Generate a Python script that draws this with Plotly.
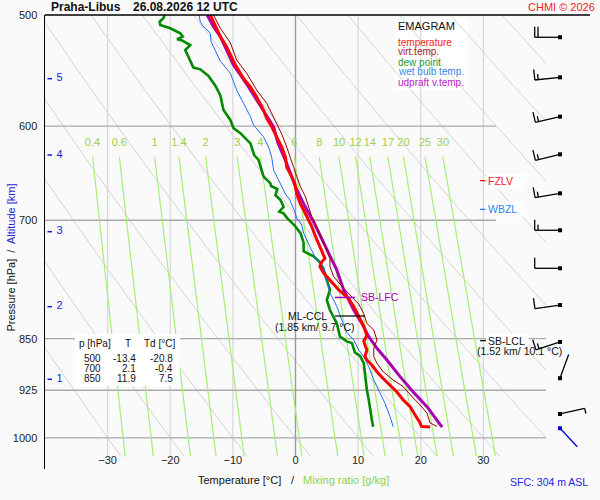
import numpy as np
import plotly.graph_objects as go

FONT = "Liberation Sans, Arial, sans-serif"

# ---------------- data ----------------
station = "Praha-Libus"
date_label = "26.08.2026 12 UTC"

temp_p = [500, 505.5, 511.0, 518.0, 526.6, 533.9, 542.7, 547.2, 554.9, 562.5, 571.9, 584.3, 592.4, 600.6,
          610.6, 620.8, 631.3, 641.8, 651.7, 658.9, 670.6, 681.7, 688.4, 699.8, 707.4, 717.2, 731.0, 741.3,
          745.2, 749.3, 755.4, 763.3, 772.1, 784.8, 795.0, 806.4, 819.4, 832.5, 846.1, 853.3, 858.9, 865.9,
          875.4, 880.2, 887.5, 897.4, 907.3, 917.1, 927.7, 939.9, 950.3, 963.3, 976.0, 981.5, 982.5]
temp_t = [-13.6, -13.1, -12.5, -12.0, -11.0, -10.4, -9.6, -9.1, -8.3, -7.2, -6.2, -5.1, -4.6, -3.8,
          -3.0, -2.2, -1.6, -1.4, -0.6, -0.1, 0.2, 0.8, 1.3, 2.1, 2.6, 3.1, 3.9, 4.5,
          4.7, 4.2, 3.9, 4.5, 5.5, 6.9, 8.4, 9.3, 10.1, 10.9, 11.4, 10.9, 11.1, 11.4,
          11.1, 11.4, 12.2, 13.0, 14.0, 15.1, 16.2, 17.2, 18.3, 19.1, 19.9, 20.1, 21.5]

tv_p = [500, 511.0, 523.3, 538.3, 550.1, 565.4, 577.9, 590.7, 607.7, 620.8, 631.3, 641.8, 651.7, 662.8,
        673.8, 684.7, 696.1, 707.4, 723.1, 735.0, 745.2, 755.4, 767.9, 781.9, 794.5, 803.1, 815.9, 829.0,
        838.0, 851.9, 863.5, 875.4, 885.0, 897.4, 909.6, 919.6, 934.8, 947.6, 960.6, 976.0, 981.5]
tv_t = [-13.1, -12.0, -10.4, -9.4, -7.8, -6.2, -4.6, -3.5, -2.2, -1.4, -0.9, -0.3, 0.2, 0.8,
        1.6, 2.1, 2.6, 3.4, 4.2, 5.0, 5.5, 5.5, 6.1, 7.6, 9.0, 10.1, 10.9, 11.4,
        12.5, 13.0, 12.5, 12.5, 13.0, 14.0, 15.6, 17.2, 18.6, 19.9, 21.0, 21.5, 22.6]

dew_p = [500, 502.7, 505.5, 508.3, 511.0, 515.2, 518.0, 520.2, 521.4, 525.2, 529.5, 534.9, 545.0, 546.6,
         552.6, 561.5, 570.5, 584.3, 589.1, 593.9, 601.9, 606.9, 617.1, 629.0, 634.2, 644.7, 651.7, 658.9,
         661.8, 665.1, 671.7, 677.2, 684.7, 690.3, 692.2, 697.9, 705.5, 714.9, 726.6, 736.6, 742.7, 750.1,
         759.5, 772.1, 784.8, 797.8, 811.0, 829.0, 847.2, 853.8, 856.0, 869.6, 874.4, 885.0, 904.6, 924.6,
         939.9, 955.4, 971.2, 982.0]
dew_t = [-20.9, -21.1, -21.7, -21.6, -20.0, -18.4, -18.0, -18.9, -18.1, -16.8, -17.6, -17.1, -16.3, -15.2,
         -13.9, -12.8, -12.0, -11.5, -11.0, -10.4, -9.9, -8.8, -7.2, -6.6, -5.9, -5.4, -5.1, -4.0,
         -3.9, -2.9, -3.2, -2.4, -1.9, -2.6, -1.9, -1.3, -0.2, 0.8, 1.3, 1.3, 2.9, 3.9,
         4.5, 5.0, 5.5, 5.0, 5.5, 6.6, 7.1, 8.2, 9.0, 9.5, 10.3, 10.9, 11.1, 11.4,
         11.7, 11.9, 12.2, 12.4]

wb_p = [500, 505.5, 508.3, 515.2, 522.1, 539.4, 550.1, 565.4, 577.9, 590.7, 598.8, 610.6, 620.8, 631.3,
        644.7, 658.9, 670.6, 677.2, 690.3, 697.9, 705.5, 714.9, 723.1, 732.6, 747.2, 755.4, 772.1, 789.0,
        797.8, 806.4, 824.4, 841.5, 851.9, 865.9, 875.4, 890.0, 909.6, 929.6, 945.1, 966.0, 982.0]
wb_t = [-15.4, -15.2, -14.9, -13.6, -13.5, -12.0, -10.4, -9.4, -8.3, -7.2, -6.7, -5.1, -4.3, -3.8,
        -3.5, -2.4, -1.6, -0.9, -0.1, 0.2, 1.0, 1.3, 1.8, 2.4, 3.4, 4.5, 5.0, 5.5,
        6.1, 6.6, 7.4, 8.2, 9.3, 10.1, 10.9, 11.7, 12.5, 13.5, 14.3, 15.1, 15.6]

parcel_p = [500, 509.7, 518.0, 529.5, 542.7, 551.7, 562.5, 574.8, 587.6, 600.6, 616.8, 639.4, 662.8, 682.8,
            702.1, 735.0, 759.5, 784.8, 794.5, 811.0, 829.0, 847.2, 863.5, 880.2, 904.6, 927.7, 950.3, 982.5]
parcel_t = [-14.1, -13.1, -12.0, -11.0, -9.9, -8.8, -7.5, -6.2, -4.8, -3.5, -2.8, -1.3, 0.0, 1.4,
            2.9, 5.0, 6.6, 7.7, 8.3, 9.3, 10.6, 11.7, 13.0, 14.6, 16.7, 18.8, 21.0, 23.4]

table_p = [500, 700, 850]
table_t = [-13.4, 2.1, 11.9]
table_td = [-20.8, -0.4, 7.5]

isobar_ticks = [500, 600, 700, 850, 925, 1000]
isotherm_ticks = [-30, -20, -10, 0, 10, 20, 30]
mixing_ratios = [0.4, 0.6, 1, 1.4, 2, 3, 4, 6, 8, 10, 12, 14, 17, 20, 25, 30]
mixing_labels = ["0.4", "0.6", "1", "1.4", "2", "3", "4", "6", "8", "10", "12", "14", "17", "20", "25", "30"]
adiabat_t1000 = [-30, -20, -10, 0, 10, 20, 30, 40, 50, 60, 70, 80, 90, 100]

alt_km = [1, 2, 3, 4, 5]
alt_p = [908.5, 806.6, 713.3, 629.0, 555.0]

wind_p = [518.6, 553.8, 590.7, 628.3, 669.8, 711.6, 757.4, 804.4, 854.6, 907.0, 961.7]
wind_dir = [270, 264, 257, 256, 260, 270, 270, 262, 252, 20, 77]
wind_kt = [20, 15, 15, 15, 15, 15, 10, 10, 15, 2, 5]
sfc_p, sfc_dir, sfc_kt = 984.5, 137, 3

fzlv_p = 656.0
wbzl_p = 687.6
sb_lfc_p, sb_lfc_t = 794.5, 8.3
ml_ccl_p, ml_ccl_km, ml_ccl_t = 819.0, 1.85, 9.7
sb_lcl_p, sb_lcl_km, sb_lcl_t = 852.8, 1.52, 10.1
sfc_alt_m = 304

# ---------------- geometry helpers ----------------
L_M, R_M, T_M, B_M = 45, 4, 15, 31
W_PLOT = 600 - L_M - R_M
H_PLOT = 500 - T_M - B_M
MAIN_W = 501
BARB_X0 = 520          # left edge (px) of the wind-barb strip
STATION_X = 560        # px of barb station dots
P_BOTTOM = 1052.5
PX_PER_LN = H_PLOT / np.log(P_BOTTOM / 500.0)


def px(x):
    return (x - L_M) / W_PLOT


def py(y):
    return (500 - B_M - y) / H_PLOT


def t_of_px(x):
    return -40 + (x - L_M) * 80.0 / MAIN_W


fig = go.Figure()


def seg_trace(xs, ys, color, width, xaxis="x"):
    fig.add_trace(go.Scatter(x=xs, y=ys, mode="lines", line=dict(color=color, width=width),
                             hoverinfo="skip", xaxis=xaxis, yaxis="y"))


# isotherms
xs, ys = [], []
for t in isotherm_ticks:
    if t == 0:
        continue
    xs += [t, t, None]
    ys += [500, 1031, None]
seg_trace(xs, ys, "#d9d9d9", 1.3)

# dry adiabats
pp = np.geomspace(500, 1031, 90)
xs, ys = [], []
for t0 in adiabat_t1000:
    tt = (t0 + 273.15) * (pp / 1000.0) ** 0.2857 - 273.15
    xs += list(tt) + [None]
    ys += list(pp) + [None]
seg_trace(xs, ys, "#d4d4d4", 1.0)

# isobars
xs, ys = [], []
for p in isobar_ticks[1:]:
    right = 32 if p in (600, 700) else 40
    xs += [-40, right, None]
    ys += [p, p, None]
seg_trace(xs, ys, "#a9a9a9", 1.3)
seg_trace([0, 0], [500, 1031], "#9a9a9a", 1.4)


# mixing ratio lines
def td_from_w(w, p):
    e = w * p / (622.0 + w)
    lg = np.log(e / 6.112)
    return 243.5 * lg / (17.67 - lg)


pm = np.geomspace(630.8, 1031, 60)
xs, ys = [], []
for w in mixing_ratios:
    xs += list(td_from_w(w, pm)) + [None]
    ys += list(pm) + [None]
seg_trace(xs, ys, "#a6ee78", 1.2)
fig.add_trace(go.Scatter(x=[td_from_w(w, 630.8) for w in mixing_ratios], y=[616.8] * len(mixing_ratios),
                         mode="text", text=mixing_labels, textfont=dict(family=FONT, size=11, color="#9bd14a"),
                         hoverinfo="skip", cliponaxis=False))

# altitude ticks
xs, ys = [], []
for p in alt_p:
    xs += [t_of_px(47.5), t_of_px(52), None]
    ys += [p, p, None]
seg_trace(xs, ys, "#1a1ae6", 1.5)
fig.add_trace(go.Scatter(x=[t_of_px(59.5)] * len(alt_km), y=alt_p, mode="text", text=[str(k) for k in alt_km],
                         textfont=dict(family=FONT, size=11, color="#1a1ae6"), hoverinfo="skip"))

# profiles
seg_trace(dew_t, dew_p, "#008a00", 2.6)
seg_trace(wb_t, wb_p, "#1f6fff", 1.0)
seg_trace(parcel_t, parcel_p, "#aa00b4", 3.0)
seg_trace(temp_t, temp_p, "#ff0000", 3.0)
seg_trace(tv_t, tv_p, "#990000", 1.0)

# level markers
seg_trace([sb_lfc_t - 2.0, sb_lfc_t + 1.2], [sb_lfc_p, sb_lfc_p], "#aa00b4", 1.5)
seg_trace([ml_ccl_t - 3.4, ml_ccl_t + 1.4], [ml_ccl_p, ml_ccl_p], "#000000", 1.2)
seg_trace([t_of_px(480), t_of_px(486)], [sb_lcl_p, sb_lcl_p], "#000000", 1.2)
seg_trace([t_of_px(480), t_of_px(485.5)], [fzlv_p, fzlv_p], "#ff0000", 1.2)
seg_trace([t_of_px(480), t_of_px(485.5)], [wbzl_p, wbzl_p], "#1f6fff", 1.2)

SX = STATION_X - BARB_X0


# wind barbs (on a second x axis in pixel units)
def barb(p0, d, spd, color):
    rad = np.deg2rad(d)
    ux, uy = np.sin(rad), -np.cos(rad)
    bx, by = np.cos(rad), np.sin(rad)
    L = 25.3
    segs = [((0, 0), (L * ux, L * uy))]
    pos = L
    for _ in range(int(spd // 10)):
        segs.append(((pos * ux, pos * uy), (pos * ux + 10.5 * bx, pos * uy + 10.5 * by)))
        pos -= 3.3
    if spd % 10 >= 5:
        segs.append(((pos * ux, pos * uy), (pos * ux + 5.5 * bx, pos * uy + 5.5 * by)))
    xs, ys = [], []
    for (a, b) in segs:
        for (ddx, ddy) in (a, b):
            xs.append(SX + ddx)
            ys.append(p0 * np.exp(ddy / PX_PER_LN))
        xs.append(None)
        ys.append(None)
    seg_trace(xs, ys, color, 1.3, xaxis="x2")


for p, d, s in zip(wind_p, wind_dir, wind_kt):
    barb(p, d, s, "#000000")
barb(sfc_p, sfc_dir, sfc_kt, "#0000dd")
fig.add_trace(go.Scatter(x=[SX] * len(wind_p), y=wind_p, mode="markers", xaxis="x2", yaxis="y",
                         marker=dict(symbol="square", size=4, color="#000000"), hoverinfo="skip"))
fig.add_trace(go.Scatter(x=[SX], y=[sfc_p], mode="markers", xaxis="x2", yaxis="y",
                         marker=dict(symbol="square", size=4, color="#0000dd"), hoverinfo="skip"))

# ---------------- annotations ----------------
annotations = []


def label(text, x, y, size=10.5, color="#111111", xanchor="left", bold=False, bg=None, angle=0):
    a = dict(text=f"<b>{text}</b>" if bold else text, x=px(x), y=py(y), xref="paper", yref="paper",
             xanchor=xanchor, yanchor="middle", showarrow=False, textangle=angle,
             font=dict(family=FONT, size=size, color=color))
    if bg:
        a.update(bgcolor=bg, borderpad=1)
    annotations.append(a)


def dlabel(text, t, p, size=10.5, color="#111111", xanchor="left", bg=None):
    a = dict(text=text, x=t, y=np.log10(p), xref="x", yref="y", xanchor=xanchor, yanchor="middle",
             showarrow=False, font=dict(family=FONT, size=size, color=color))
    if bg:
        a.update(bgcolor=bg, borderpad=1)
    annotations.append(a)


label(station, 49, 7, size=12, color="#111111", bold=True)
label(date_label, 130.5, 7, size=12, color="#111111", bold=True)
label("CHMI © 2026", 597, 7, size=11, color="#ee2222", xanchor="right")

label("EMAGRAM", 395.5, 25.7, size=11, color="#111111")
leg = [("temperature", "#ff2020"), ("virt.temp.", "#aa1a1a"), ("dew point", "#1f9a1f"),
       ("wet bulb temp.", "#3a86ee"), ("udpraft v.temp.", "#b526c4")]
for i, (txt, c) in enumerate(leg):
    label(txt, 395.5, 42 + 10 * i, size=10, color=c)

label("p [hPa]", 77, 343.7, size=10)
label("T", 127.5, 343.7, size=10, xanchor="center")
label("Td [°C]", 142, 343.7, size=10)
for i, (p, t, td) in enumerate(zip(table_p, table_t, table_td)):
    yy = 358.7 + 10 * i
    label(f"{p}", 103, yy, size=10, xanchor="right")
    label(f"{t:.1f}", 138, yy, size=10, xanchor="right")
    label(f"{td:.1f}", 174.5, yy, size=10, xanchor="right")

dlabel("SB-LFC", sb_lfc_t + 1.8, sb_lfc_p, color="#aa00b4")
dlabel("ML-CCL", ml_ccl_t - 4.4, ml_ccl_p, xanchor="right")
dlabel(f"({ml_ccl_km:.2f} km/ {ml_ccl_t:.1f} °C)", ml_ccl_t - 6.6, ml_ccl_p * np.exp(11 / PX_PER_LN),
       xanchor="center")
dlabel("SB-LCL ", t_of_px(486), sb_lcl_p, bg="#ffffff")
dlabel(f"({sb_lcl_km:.2f} km/ {sb_lcl_t:.1f} °C)", t_of_px(519.5), sb_lcl_p * np.exp(10.7 / PX_PER_LN),
       xanchor="center")
dlabel("FZLV   ", t_of_px(485.5), fzlv_p, color="#ff2020", bg="#ffffff")
dlabel("WBZL  ", t_of_px(485.5), wbzl_p, color="#2f7ff0", bg="#ffffff")

label("Temperature [°C]", 196, 480, size=11)
label("/", 293, 480, size=11, xanchor="center")
label("Mixing ratio [g/kg]", 301, 480, size=11, color="#8fd14a")
label("Pressure [hPa]  /  <span style='color:#2222dd'>Altitude [km]</span>", 10, 257.5, size=11,
      xanchor="center", angle=-90)
label(f"SFC: {sfc_alt_m} m ASL", 589.5, 481.7, size=10.5, color="#2424e6", xanchor="right")

shapes = [
    dict(type="rect", xref="paper", yref="paper", x0=px(395), x1=px(468), y0=py(90), y1=py(18),
         fillcolor="#ffffff", line=dict(width=0), layer="below"),
    dict(type="rect", xref="paper", yref="paper", x0=px(75), x1=px(180), y0=py(386), y1=py(334),
         fillcolor="#ffffff", line=dict(width=0), layer="above"),
    dict(type="line", xref="paper", yref="paper", x0=0, x1=px(590), y0=1, y1=1,
         line=dict(color="#000000", width=1.5)),
]

fig.update_layout(
    width=600, height=500, autosize=False,
    margin=dict(l=L_M, r=R_M, t=T_M, b=B_M),
    paper_bgcolor="#fafafa", plot_bgcolor="rgba(0,0,0,0)",
    showlegend=False,
    hovermode=False,
    annotations=annotations,
    shapes=shapes,
    xaxis=dict(domain=[0, MAIN_W / W_PLOT], range=[-40, 40], showgrid=False, zeroline=False, showline=False,
               tickvals=isotherm_ticks, ticks="", ticklabelposition="inside",
               tickfont=dict(family=FONT, size=11, color="#222222")),
    xaxis2=dict(domain=[px(BARB_X0), 1], range=[0, 600 - R_M - BARB_X0], visible=False, anchor="y"),
    yaxis=dict(type="log", range=[np.log10(P_BOTTOM), np.log10(500)], showgrid=False, zeroline=False,
               showline=True, linecolor="#000000", linewidth=1.5, ticks="",
               tickvals=isobar_ticks, ticktext=[str(v) for v in isobar_ticks], ticklabelstandoff=4,
               tickfont=dict(family=FONT, size=11, color="#222222")),
)

fig.write_html("out.html", config={"displayModeBar": False, "staticPlot": True},
               post_script="document.body.style.margin='0px';")
